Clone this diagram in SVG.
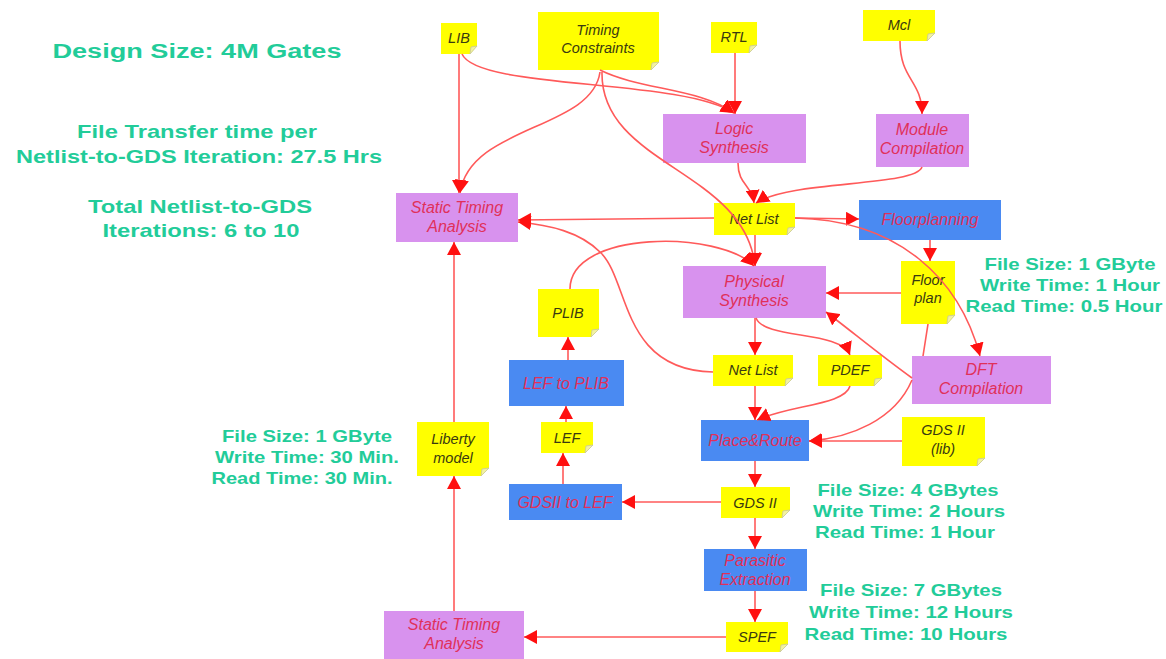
<svg xmlns="http://www.w3.org/2000/svg" width="1166" height="659" viewBox="0 0 1166 659">
<style>
.note{fill:#FFFF00}
.fold{fill:#F2F2A0;stroke:#C8C8A0;stroke-width:0.8}
.ntx{font-family:"Liberation Sans",Arial,sans-serif;font-style:italic;font-size:14.5px;fill:#3A3A10;text-anchor:middle}
.pur{fill:#D892EE}
.blu{fill:#4A8AF2}
.btx{font-family:"Liberation Sans",Arial,sans-serif;font-style:italic;font-size:16px;fill:#E0305A;text-anchor:middle}
.grn{font-family:"Liberation Sans",Arial,sans-serif;font-weight:bold;fill:#22CC99;text-anchor:middle}
.c path{fill:none;stroke:#FF5A5A;stroke-width:1.6;marker-end:url(#ah)}
.c path.na{marker-end:none}
</style>
<defs>
<marker id="ah" markerUnits="userSpaceOnUse" markerWidth="14" markerHeight="14" refX="13" refY="7" orient="auto">
<path d="M0,0 L13,7 L0,14 Z" fill="#FF1010"/>
</marker>
</defs>
<rect width="1166" height="659" fill="#FFFFFF"/>

<g id="info-left">
<text class="grn" x="197" y="58" font-size="20" textLength="289" lengthAdjust="spacingAndGlyphs">Design Size: 4M Gates</text>
<text class="grn" x="197" y="138" font-size="19" textLength="240" lengthAdjust="spacingAndGlyphs">File Transfer time per</text>
<text class="grn" x="199" y="163" font-size="19" textLength="366" lengthAdjust="spacingAndGlyphs">Netlist-to-GDS Iteration: 27.5 Hrs</text>
<text class="grn" x="200" y="213" font-size="19" textLength="224" lengthAdjust="spacingAndGlyphs">Total Netlist-to-GDS</text>
<text class="grn" x="201" y="237" font-size="19" textLength="197" lengthAdjust="spacingAndGlyphs">Iterations: 6 to 10</text>
</g>
<g id="info-floorplan">
<text class="grn" x="1070" y="270" font-size="16.5" textLength="171" lengthAdjust="spacingAndGlyphs">File Size: 1 GByte</text>
<text class="grn" x="1070" y="291" font-size="16.5" textLength="180" lengthAdjust="spacingAndGlyphs">Write Time: 1 Hour</text>
<text class="grn" x="1064" y="312" font-size="16.5" textLength="197" lengthAdjust="spacingAndGlyphs">Read Time: 0.5 Hour</text>
</g>
<g id="info-liberty">
<text class="grn" x="307" y="442" font-size="16.5" textLength="170" lengthAdjust="spacingAndGlyphs">File Size: 1 GByte</text>
<text class="grn" x="307" y="463" font-size="16.5" textLength="184" lengthAdjust="spacingAndGlyphs">Write Time: 30 Min.</text>
<text class="grn" x="302" y="484" font-size="16.5" textLength="181" lengthAdjust="spacingAndGlyphs">Read Time: 30 Min.</text>
</g>
<g id="info-gds">
<text class="grn" x="908" y="496" font-size="16.5" textLength="181" lengthAdjust="spacingAndGlyphs">File Size: 4 GBytes</text>
<text class="grn" x="909" y="517" font-size="16.5" textLength="192" lengthAdjust="spacingAndGlyphs">Write Time: 2 Hours</text>
<text class="grn" x="905" y="538" font-size="16.5" textLength="180" lengthAdjust="spacingAndGlyphs">Read Time: 1 Hour</text>
</g>
<g id="info-spef">
<text class="grn" x="911" y="596" font-size="16.5" textLength="182" lengthAdjust="spacingAndGlyphs">File Size: 7 GBytes</text>
<text class="grn" x="911" y="618" font-size="16.5" textLength="204" lengthAdjust="spacingAndGlyphs">Write Time: 12 Hours</text>
<text class="grn" x="906" y="640" font-size="16.5" textLength="203" lengthAdjust="spacingAndGlyphs">Read Time: 10 Hours</text>
</g>

<g id="n-lib"><path class="note" d="M441,23 H477 V46 L470,54 H441 Z"/><path class="fold" d="M477,46 L470,54 L471,47 Z"/><text class="ntx" x="459" y="43">LIB</text></g>
<g id="n-timing"><path class="note" d="M538,12 H659 V62 L651,70 H538 Z"/><path class="fold" d="M659,62 L651,70 L652,63 Z"/><text class="ntx" x="598" y="35">Timing</text><text class="ntx" x="598" y="53">Constraints</text></g>
<g id="n-rtl"><path class="note" d="M711,22 H757 V45 L749,53 H711 Z"/><path class="fold" d="M757,45 L749,53 L750,46 Z"/><text class="ntx" x="734" y="42">RTL</text></g>
<g id="n-mcl"><path class="note" d="M863,10 H935 V33 L927,41 H863 Z"/><path class="fold" d="M935,33 L927,41 L928,34 Z"/><text class="ntx" x="899" y="30">Mcl</text></g>
<g id="n-logic"><rect class="pur" x="663" y="114" width="143" height="49"/><text class="btx" x="734" y="134">Logic</text><text class="btx" x="734" y="153">Synthesis</text></g>
<g id="n-module"><rect class="pur" x="876" y="114" width="93" height="53"/><text class="btx" x="922" y="135">Module</text><text class="btx" x="922" y="154">Compilation</text></g>
<g id="n-sta-top"><rect class="pur" x="396" y="193" width="122" height="49"/><text class="btx" x="457" y="213">Static Timing</text><text class="btx" x="457" y="232">Analysis</text></g>
<g id="n-netlist1"><path class="note" d="M714,203 H795 V227 L787,235 H714 Z"/><path class="fold" d="M795,227 L787,235 L788,228 Z"/><text class="ntx" x="754" y="224">Net List</text></g>
<g id="n-floorplanning"><rect class="blu" x="859" y="200" width="142" height="40"/><text class="btx" x="930" y="225">Floorplanning</text></g>
<g id="n-floorplan"><path class="note" d="M901,261 H955 V315 L947,324 H901 Z"/><path class="fold" d="M955,315 L947,324 L948,316 Z"/><text class="ntx" x="928" y="285">Floor</text><text class="ntx" x="928" y="303">plan</text></g>
<g id="n-physical"><rect class="pur" x="683" y="266" width="143" height="52"/><text class="btx" x="754" y="287">Physical</text><text class="btx" x="754" y="306">Synthesis</text></g>
<g id="n-plib"><path class="note" d="M538,289 H599 V329 L591,337 H538 Z"/><path class="fold" d="M599,329 L591,337 L592,330 Z"/><text class="ntx" x="568" y="318">PLIB</text></g>
<g id="n-netlist2"><path class="note" d="M713,355 H793 V378 L785,386 H713 Z"/><path class="fold" d="M793,378 L785,386 L786,379 Z"/><text class="ntx" x="753" y="375">Net List</text></g>
<g id="n-pdef"><path class="note" d="M818,355 H882 V378 L874,386 H818 Z"/><path class="fold" d="M882,378 L874,386 L875,379 Z"/><text class="ntx" x="850" y="375">PDEF</text></g>
<g id="n-dft"><rect class="pur" x="912" y="356" width="139" height="48"/><text class="btx" x="981" y="375">DFT</text><text class="btx" x="981" y="394">Compilation</text></g>
<g id="n-leftoplib"><rect class="blu" x="509" y="360" width="115" height="46"/><text class="btx" x="566" y="389">LEF to PLIB</text></g>
<g id="n-lef"><path class="note" d="M541,422 H593 V445 L585,453 H541 Z"/><path class="fold" d="M593,445 L585,453 L586,446 Z"/><text class="ntx" x="567" y="443">LEF</text></g>
<g id="n-liberty"><path class="note" d="M417,422 H489 V468 L481,476 H417 Z"/><path class="fold" d="M489,468 L481,476 L482,469 Z"/><text class="ntx" x="453" y="444">Liberty</text><text class="ntx" x="453" y="463">model</text></g>
<g id="n-pr"><rect class="blu" x="701" y="420" width="108" height="41"/><text class="btx" x="755" y="446">Place&amp;Route</text></g>
<g id="n-gdslib"><path class="note" d="M902,417 H985 V458 L977,466 H902 Z"/><path class="fold" d="M985,458 L977,466 L978,459 Z"/><text class="ntx" x="943" y="435">GDS II</text><text class="ntx" x="943" y="454">(lib)</text></g>
<g id="n-gdsii"><path class="note" d="M721,487 H790 V510 L782,518 H721 Z"/><path class="fold" d="M790,510 L782,518 L783,511 Z"/><text class="ntx" x="755" y="508">GDS II</text></g>
<g id="n-gds2lef"><rect class="blu" x="509" y="484" width="113" height="36"/><text class="btx" x="565" y="508">GDSII to LEF</text></g>
<g id="n-parasitic"><rect class="blu" x="704" y="549" width="103" height="42"/><text class="btx" x="755" y="566">Parasitic</text><text class="btx" x="755" y="585">Extraction</text></g>
<g id="n-spef"><path class="note" d="M726,622 H788 V644 L780,652 H726 Z"/><path class="fold" d="M788,644 L780,652 L781,645 Z"/><text class="ntx" x="757" y="642">SPEF</text></g>
<g id="n-sta-bottom"><rect class="pur" x="384" y="611" width="140" height="48"/><text class="btx" x="454" y="630">Static Timing</text><text class="btx" x="454" y="649">Analysis</text></g>

<g id="connectors" class="c">
<path d="M459,54 L459,193"/>
<path d="M462,54 C478,90 680,78 734,113"/>
<path d="M600,70 C640,90 700,88 734,113"/>
<path d="M600,72 C592,130 470,125 460,193"/>
<path d="M602,72 C600,165 745,170 755,266"/>
<path d="M735,53 V114"/>
<path d="M900,41 C900,80 922,80 922,114"/>
<path d="M738,163 C738,185 752,185 754,203"/>
<path d="M922,167 C915,187 790,180 756,203"/>
<path d="M714,218 L518,220"/>
<path d="M795,218 L859,219"/>
<path d="M795,218 C900,220 960,280 980,356"/>
<path d="M755,235 V266"/>
<path d="M930,240 V261"/>
<path d="M901,293 H826"/>
<path class="na" d="M928,324 L923,356"/>
<path d="M912,378 C880,355 850,330 826,312"/>
<path d="M912,380 C895,420 850,438 809,441"/>
<path d="M755,318 V355"/>
<path d="M756,318 C765,340 840,330 850,355"/>
<path d="M713,372 C620,370 630,280 600,252 C580,232 550,225 518,222"/>
<path d="M570,289 C570,230 720,230 754,266"/>
<path d="M568,360 V337"/>
<path d="M566,422 V406"/>
<path d="M563,484 V453"/>
<path d="M721,502 H622"/>
<path d="M755,461 V487"/>
<path d="M755,518 V549"/>
<path d="M755,591 V622"/>
<path d="M726,637 H524"/>
<path d="M454,611 V476"/>
<path d="M454,422 V242"/>
<path d="M755,386 V420"/>
<path d="M850,386 C845,405 790,405 757,420"/>
<path d="M902,441 H809"/>
</g>
</svg>
